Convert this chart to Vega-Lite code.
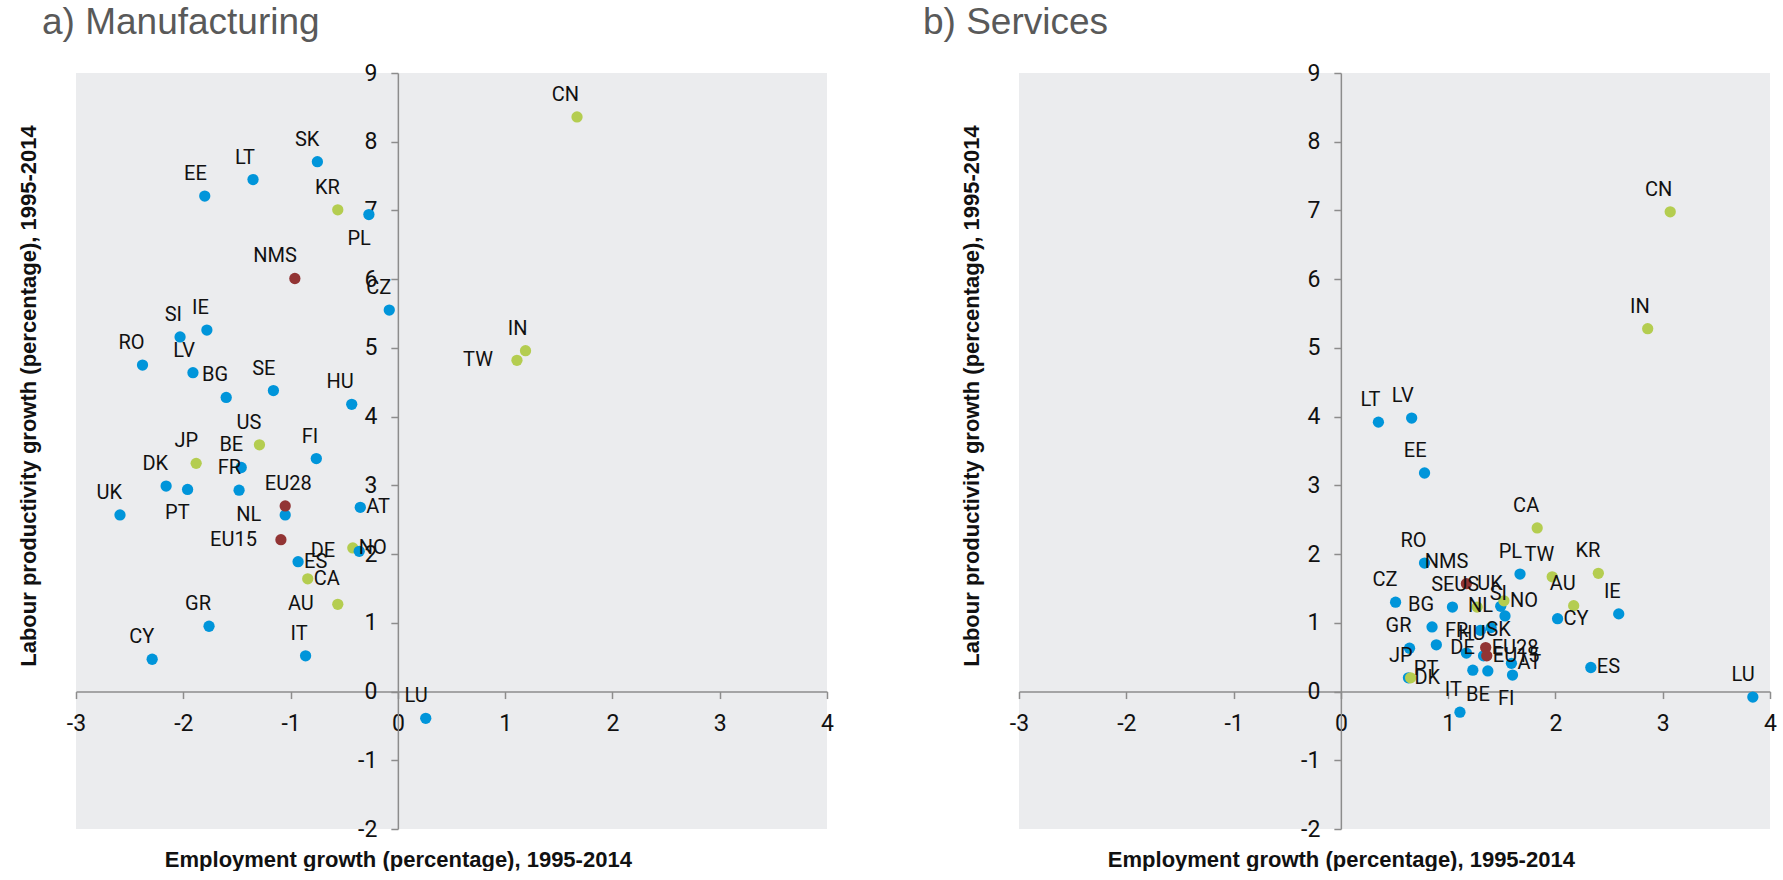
{
  "$schema": "https://vega.github.io/schema/vega-lite/v6.json",
  "background": "white",
  "padding": {"left": 16, "top": 4, "right": 10, "bottom": 0},
  "bounds": "flush",
  "spacing": 192,
  "config": {
    "view": {"fill": "#EBECEE", "stroke": null},
    "font": "Liberation Sans",
    "axis": {
      "grid": false,
      "domainColor": "#8C8C8C",
      "domainWidth": 1.5,
      "tickColor": "#8C8C8C",
      "tickWidth": 1.5,
      "tickSize": 7,
      "labelFont": "Roboto",
      "labelFontSize": 23,
      "labelColor": "#111111",
      "labelPadding": 14,
      "labelFlush": false,
      "labelOverlap": false,
      "labelExpr": "datum.value + ''",
      "titleFont": "Liberation Sans",
      "titleFontWeight": "bold",
      "titleFontSize": 22,
      "titleColor": "#111111"
    },
    "text": {"font": "Roboto", "fontSize": 20, "color": "#111111"}
  },
  "datasets": {
    "pts": [
      {"p": "M", "c": "SK", "x": -0.75, "y": 7.71, "g": "EU", "pos": "above"},
      {"p": "M", "c": "LT", "x": -1.35, "y": 7.45, "g": "EU", "pos": "above"},
      {"p": "M", "c": "EE", "x": -1.80, "y": 7.21, "g": "EU", "pos": "above"},
      {"p": "M", "c": "KR", "x": -0.56, "y": 7.01, "g": "Non-EU", "pos": "above"},
      {"p": "M", "c": "PL", "x": -0.27, "y": 6.94, "g": "EU", "pos": "below"},
      {"p": "M", "c": "CZ", "x": -0.08, "y": 5.55, "g": "EU", "pos": "above"},
      {"p": "M", "c": "IE", "x": -1.78, "y": 5.26, "g": "EU", "pos": "above"},
      {"p": "M", "c": "SI", "x": -2.03, "y": 5.16, "g": "EU", "pos": "above"},
      {"p": "M", "c": "RO", "x": -2.38, "y": 4.75, "g": "EU", "pos": "above"},
      {"p": "M", "c": "LV", "x": -1.91, "y": 4.64, "g": "EU", "pos": "above"},
      {"p": "M", "c": "BG", "x": -1.60, "y": 4.28, "g": "EU", "pos": "above"},
      {"p": "M", "c": "SE", "x": -1.16, "y": 4.38, "g": "EU", "pos": "above"},
      {"p": "M", "c": "HU", "x": -0.43, "y": 4.18, "g": "EU", "pos": "above"},
      {"p": "M", "c": "CN", "x": 1.67, "y": 8.36, "g": "Non-EU", "pos": "above"},
      {"p": "M", "c": "IN", "x": 1.19, "y": 4.96, "g": "Non-EU", "pos": "above"},
      {"p": "M", "c": "TW", "x": 1.11, "y": 4.82, "g": "Non-EU", "pos": "left"},
      {"p": "M", "c": "US", "x": -1.29, "y": 3.59, "g": "Non-EU", "pos": "above"},
      {"p": "M", "c": "FI", "x": -0.76, "y": 3.39, "g": "EU", "pos": "above"},
      {"p": "M", "c": "JP", "x": -1.88, "y": 3.32, "g": "Non-EU", "pos": "above"},
      {"p": "M", "c": "BE", "x": -1.46, "y": 3.26, "g": "EU", "pos": "above"},
      {"p": "M", "c": "FR", "x": -1.48, "y": 2.93, "g": "EU", "pos": "above"},
      {"p": "M", "c": "DK", "x": -2.16, "y": 2.99, "g": "EU", "pos": "above"},
      {"p": "M", "c": "PT", "x": -1.96, "y": 2.94, "g": "EU", "pos": "below"},
      {"p": "M", "c": "UK", "x": -2.59, "y": 2.57, "g": "EU", "pos": "above"},
      {"p": "M", "c": "NL", "x": -1.05, "y": 2.57, "g": "EU", "pos": "left"},
      {"p": "M", "c": "AT", "x": -0.35, "y": 2.68, "g": "EU", "pos": "right"},
      {"p": "M", "c": "NO", "x": -0.42, "y": 2.09, "g": "Non-EU", "pos": "right"},
      {"p": "M", "c": "DE", "x": -0.36, "y": 2.04, "g": "EU", "pos": "left"},
      {"p": "M", "c": "ES", "x": -0.93, "y": 1.89, "g": "EU", "pos": "right"},
      {"p": "M", "c": "CA", "x": -0.84, "y": 1.64, "g": "Non-EU", "pos": "right"},
      {"p": "M", "c": "AU", "x": -0.56, "y": 1.27, "g": "Non-EU", "pos": "left"},
      {"p": "M", "c": "GR", "x": -1.76, "y": 0.95, "g": "EU", "pos": "above"},
      {"p": "M", "c": "CY", "x": -2.29, "y": 0.47, "g": "EU", "pos": "above"},
      {"p": "M", "c": "IT", "x": -0.86, "y": 0.52, "g": "EU", "pos": "above"},
      {"p": "M", "c": "LU", "x": 0.26, "y": -0.39, "g": "EU", "pos": "above"},
      {"p": "M", "c": "NMS", "x": -0.96, "y": 6.01, "g": "Aggregate", "pos": "above"},
      {"p": "M", "c": "EU28", "x": -1.05, "y": 2.70, "g": "Aggregate", "pos": "abovec"},
      {"p": "M", "c": "EU15", "x": -1.09, "y": 2.21, "g": "Aggregate", "pos": "left"},

      {"p": "S", "c": "LT", "x": 0.35, "y": 3.92, "g": "EU", "pos": "above"},
      {"p": "S", "c": "LV", "x": 0.66, "y": 3.98, "g": "EU", "pos": "above"},
      {"p": "S", "c": "EE", "x": 0.78, "y": 3.18, "g": "EU", "pos": "above"},
      {"p": "S", "c": "CN", "x": 3.07, "y": 6.98, "g": "Non-EU", "pos": "above"},
      {"p": "S", "c": "IN", "x": 2.86, "y": 5.28, "g": "Non-EU", "pos": "above"},
      {"p": "S", "c": "CA", "x": 1.83, "y": 2.38, "g": "Non-EU", "pos": "above"},
      {"p": "S", "c": "RO", "x": 0.78, "y": 1.87, "g": "EU", "pos": "above"},
      {"p": "S", "c": "PL", "x": 1.67, "y": 1.71, "g": "EU", "pos": "above"},
      {"p": "S", "c": "TW", "x": 1.97, "y": 1.67, "g": "Non-EU", "pos": "above"},
      {"p": "S", "c": "KR", "x": 2.40, "y": 1.72, "g": "Non-EU", "pos": "above"},
      {"p": "S", "c": "AU", "x": 2.17, "y": 1.25, "g": "Non-EU", "pos": "above"},
      {"p": "S", "c": "IE", "x": 2.59, "y": 1.13, "g": "EU", "pos": "above"},
      {"p": "S", "c": "CY", "x": 2.02, "y": 1.06, "g": "EU", "pos": "right"},
      {"p": "S", "c": "CZ", "x": 0.51, "y": 1.30, "g": "EU", "pos": "above"},
      {"p": "S", "c": "SE", "x": 1.04, "y": 1.23, "g": "EU", "pos": "above"},
      {"p": "S", "c": "US", "x": 1.27, "y": 1.23, "g": "Non-EU", "pos": "above"},
      {"p": "S", "c": "UK", "x": 1.49, "y": 1.24, "g": "EU", "pos": "above"},
      {"p": "S", "c": "NO", "x": 1.52, "y": 1.32, "g": "Non-EU", "pos": "right"},
      {"p": "S", "c": "SI", "x": 1.53, "y": 1.10, "g": "EU", "pos": "above"},
      {"p": "S", "c": "NL", "x": 1.40, "y": 0.93, "g": "EU", "pos": "above"},
      {"p": "S", "c": "BG", "x": 0.85, "y": 0.94, "g": "EU", "pos": "above"},
      {"p": "S", "c": "SK", "x": 1.30, "y": 0.89, "g": "EU", "pos": "right"},
      {"p": "S", "c": "GR", "x": 0.64, "y": 0.63, "g": "EU", "pos": "above"},
      {"p": "S", "c": "PT", "x": 0.89, "y": 0.68, "g": "EU", "pos": "below"},
      {"p": "S", "c": "FR", "x": 1.17, "y": 0.56, "g": "EU", "pos": "above"},
      {"p": "S", "c": "HU", "x": 1.33, "y": 0.52, "g": "EU", "pos": "above"},
      {"p": "S", "c": "DE", "x": 1.23, "y": 0.31, "g": "EU", "pos": "above"},
      {"p": "S", "c": "BE", "x": 1.37, "y": 0.30, "g": "EU", "pos": "below"},
      {"p": "S", "c": "AT", "x": 1.59, "y": 0.41, "g": "EU", "pos": "right"},
      {"p": "S", "c": "FI", "x": 1.60, "y": 0.24, "g": "EU", "pos": "below"},
      {"p": "S", "c": "ES", "x": 2.33, "y": 0.35, "g": "EU", "pos": "right"},
      {"p": "S", "c": "DK", "x": 0.63, "y": 0.20, "g": "EU", "pos": "right"},
      {"p": "S", "c": "JP", "x": 0.65, "y": 0.20, "g": "Non-EU", "pos": "above"},
      {"p": "S", "c": "IT", "x": 1.11, "y": -0.30, "g": "EU", "pos": "above"},
      {"p": "S", "c": "LU", "x": 3.84, "y": -0.08, "g": "EU", "pos": "above"},
      {"p": "S", "c": "NMS", "x": 1.17, "y": 1.57, "g": "Aggregate", "pos": "above"},
      {"p": "S", "c": "EU28", "x": 1.35, "y": 0.64, "g": "Aggregate", "pos": "right"},
      {"p": "S", "c": "EU15", "x": 1.36, "y": 0.52, "g": "Aggregate", "pos": "right"}
    ]
  },
  "hconcat": [
    {
      "width": 751,
      "height": 756,
      "title": {"text": "a) Manufacturing", "anchor": "start", "frame": "group", "dx": -34, "offset": 20, "fontSize": 37, "fontWeight": "normal", "color": "#595959", "font": "Liberation Sans"},
      "data": {"name": "pts"},
      "transform": [{"filter": "datum.p === 'M'"}],
      "encoding": {
        "x": {"field": "x", "type": "quantitative", "scale": {"domain": [-3, 4], "nice": false, "zero": false},
          "axis": {"title": "Employment growth (percentage), 1995-2014", "values": [-3, -2, -1, 0, 1, 2, 3, 4], "offset": -137.45, "titleX": 321.86, "titleY": 175, "titleBaseline": "alphabetic", "titleAlign": "center"}},
        "y": {"field": "y", "type": "quantitative", "scale": {"domain": [-2, 9], "nice": false, "zero": false},
          "axis": {"title": "Labour productivity growth (percentage), 1995-2014", "values": [-2, -1, 0, 1, 2, 3, 4, 5, 6, 7, 8, 9], "offset": -321.86, "titleX": -369.86, "titleY": 322.5, "titleBaseline": "middle", "titleAlign": "center", "titleAngle": -90}}
      },
      "layer": [
        {"mark": {"type": "circle", "size": 127, "opacity": 1},
          "encoding": {"color": {"field": "g", "type": "nominal", "scale": {"domain": ["EU", "Non-EU", "Aggregate"], "range": ["#0095DA", "#B4CD50", "#923434"]}, "legend": null}}},
        {"transform": [{"filter": "datum.pos === 'above'"}], "mark": {"type": "text", "align": "right", "baseline": "middle", "dx": 2, "dy": -22}, "encoding": {"text": {"field": "c"}}},
        {"transform": [{"filter": "datum.pos === 'abovec'"}], "mark": {"type": "text", "align": "center", "baseline": "middle", "dx": 3, "dy": -22}, "encoding": {"text": {"field": "c"}}},
        {"transform": [{"filter": "datum.pos === 'below'"}], "mark": {"type": "text", "align": "right", "baseline": "middle", "dx": 2, "dy": 24}, "encoding": {"text": {"field": "c"}}},
        {"transform": [{"filter": "datum.pos === 'left'"}], "mark": {"type": "text", "align": "right", "baseline": "middle", "dx": -24, "dy": 0}, "encoding": {"text": {"field": "c"}}},
        {"transform": [{"filter": "datum.pos === 'right'"}], "mark": {"type": "text", "align": "left", "baseline": "middle", "dx": 6, "dy": 0}, "encoding": {"text": {"field": "c"}}}
      ]
    },
    {
      "width": 751,
      "height": 756,
      "title": {"text": "b) Services", "anchor": "start", "frame": "group", "dx": -96, "offset": 20, "fontSize": 37, "fontWeight": "normal", "color": "#595959", "font": "Liberation Sans"},
      "data": {"name": "pts"},
      "transform": [{"filter": "datum.p === 'S'"}],
      "encoding": {
        "x": {"field": "x", "type": "quantitative", "scale": {"domain": [-3, 4], "nice": false, "zero": false},
          "axis": {"title": "Employment growth (percentage), 1995-2014", "values": [-3, -2, -1, 0, 1, 2, 3, 4], "offset": -137.45, "titleX": 321.86, "titleY": 175, "titleBaseline": "alphabetic", "titleAlign": "center"}},
        "y": {"field": "y", "type": "quantitative", "scale": {"domain": [-2, 9], "nice": false, "zero": false},
          "axis": {"title": "Labour productivity growth (percentage), 1995-2014", "values": [-2, -1, 0, 1, 2, 3, 4, 5, 6, 7, 8, 9], "offset": -321.86, "titleX": -369.86, "titleY": 322.5, "titleBaseline": "middle", "titleAlign": "center", "titleAngle": -90}}
      },
      "layer": [
        {"mark": {"type": "circle", "size": 127, "opacity": 1},
          "encoding": {"color": {"field": "g", "type": "nominal", "scale": {"domain": ["EU", "Non-EU", "Aggregate"], "range": ["#0095DA", "#B4CD50", "#923434"]}, "legend": null}}},
        {"transform": [{"filter": "datum.pos === 'above'"}], "mark": {"type": "text", "align": "right", "baseline": "middle", "dx": 2, "dy": -22}, "encoding": {"text": {"field": "c"}}},
        {"transform": [{"filter": "datum.pos === 'abovec'"}], "mark": {"type": "text", "align": "center", "baseline": "middle", "dx": 3, "dy": -22}, "encoding": {"text": {"field": "c"}}},
        {"transform": [{"filter": "datum.pos === 'below'"}], "mark": {"type": "text", "align": "right", "baseline": "middle", "dx": 2, "dy": 24}, "encoding": {"text": {"field": "c"}}},
        {"transform": [{"filter": "datum.pos === 'left'"}], "mark": {"type": "text", "align": "right", "baseline": "middle", "dx": -24, "dy": 0}, "encoding": {"text": {"field": "c"}}},
        {"transform": [{"filter": "datum.pos === 'right'"}], "mark": {"type": "text", "align": "left", "baseline": "middle", "dx": 6, "dy": 0}, "encoding": {"text": {"field": "c"}}}
      ]
    }
  ]
}
